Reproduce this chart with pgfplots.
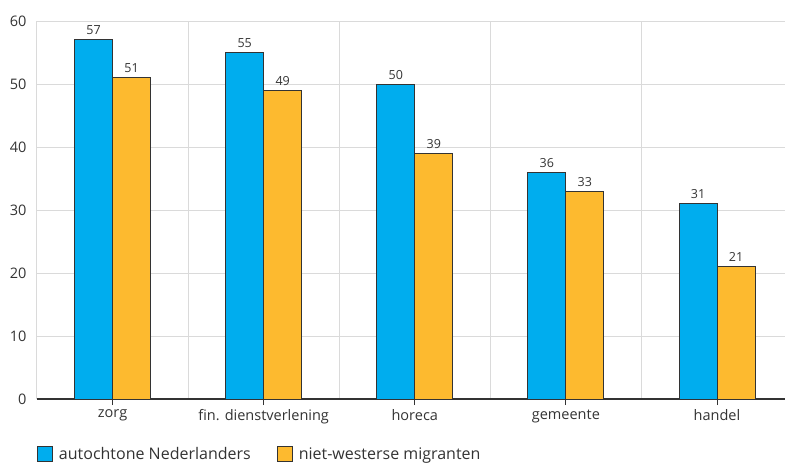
\documentclass[border=0pt]{standalone}
\usepackage{fontspec}
\setmainfont{Open Sans}
\usepackage{pgfplots}
\pgfplotsset{compat=1.18}
\definecolor{cblue}{HTML}{00ADEE}
\definecolor{corange}{HTML}{FDBA2F}
\definecolor{cgrid}{HTML}{DADADA}
\definecolor{ctext}{HTML}{333333}
\begin{document}
\begin{tikzpicture}[x=1pt,y=1pt]
\path[use as bounding box] (0,0) rectangle (785,464);
\begin{axis}[
  at={(37pt,65pt)}, anchor=south west,
  scale only axis, width=748pt, height=378pt,
  ybar=0pt, bar width=38pt,
  xmin=-0.5, xmax=4.45, ymin=0, ymax=60,
  xtick={0,1,2,3,4},
  xticklabels={zorg, fin. dienstverlening, horeca, gemeente, handel},
  minor xtick={-0.5,0.5,1.5,2.5,3.5},
  xminorgrids=true, minor grid style={cgrid, line width=1pt},
  ytick={0,10,...,60},
  ymajorgrids=true, major grid style={cgrid, line width=1pt},
  axis x line*=bottom, axis y line*=left,
  y axis line style={draw=none},
  x axis line style={ctext, line width=1.2pt, -},
  tick align=outside,
  major x tick style={ctext, line width=1pt},
  major tick length=6pt, minor tick length=0pt,
  ytick style={draw=none},
  every tick label/.append style={font=\fontsize{14.5}{16}\selectfont, text=ctext},
  /pgf/number format/assume math mode=true,
  xticklabel style={yshift=-1pt},
  yticklabel style={xshift=-1pt},
  nodes near coords,
  every node near coord/.append style={font=\fontsize{12.5}{14}\selectfont, text=ctext, yshift=1pt},
  legend style={at={(0,-0.146)}, anchor=west, draw=none, fill=none,
    inner xsep=0pt, inner ysep=0pt, outer sep=0pt,
    font=\fontsize{16}{18}\selectfont, text=ctext, legend columns=2,
    /tikz/every odd column/.append style={column sep=4pt},
    /tikz/every even column/.append style={column sep=24pt}},
  legend image code/.code={\draw[#1] (0pt,-7.5pt) rectangle (15pt,7.5pt);},
  clip=false,
]
\addplot[fill=cblue, draw=ctext, line width=1pt] coordinates {(0,57) (1,55) (2,50) (3,36) (4,31)};
\addplot[fill=corange, draw=ctext, line width=1pt] coordinates {(0,51) (1,49) (2,39) (3,33) (4,21)};
\legend{autochtone Nederlanders, niet-westerse migranten}
\end{axis}
\end{tikzpicture}
\end{document}
